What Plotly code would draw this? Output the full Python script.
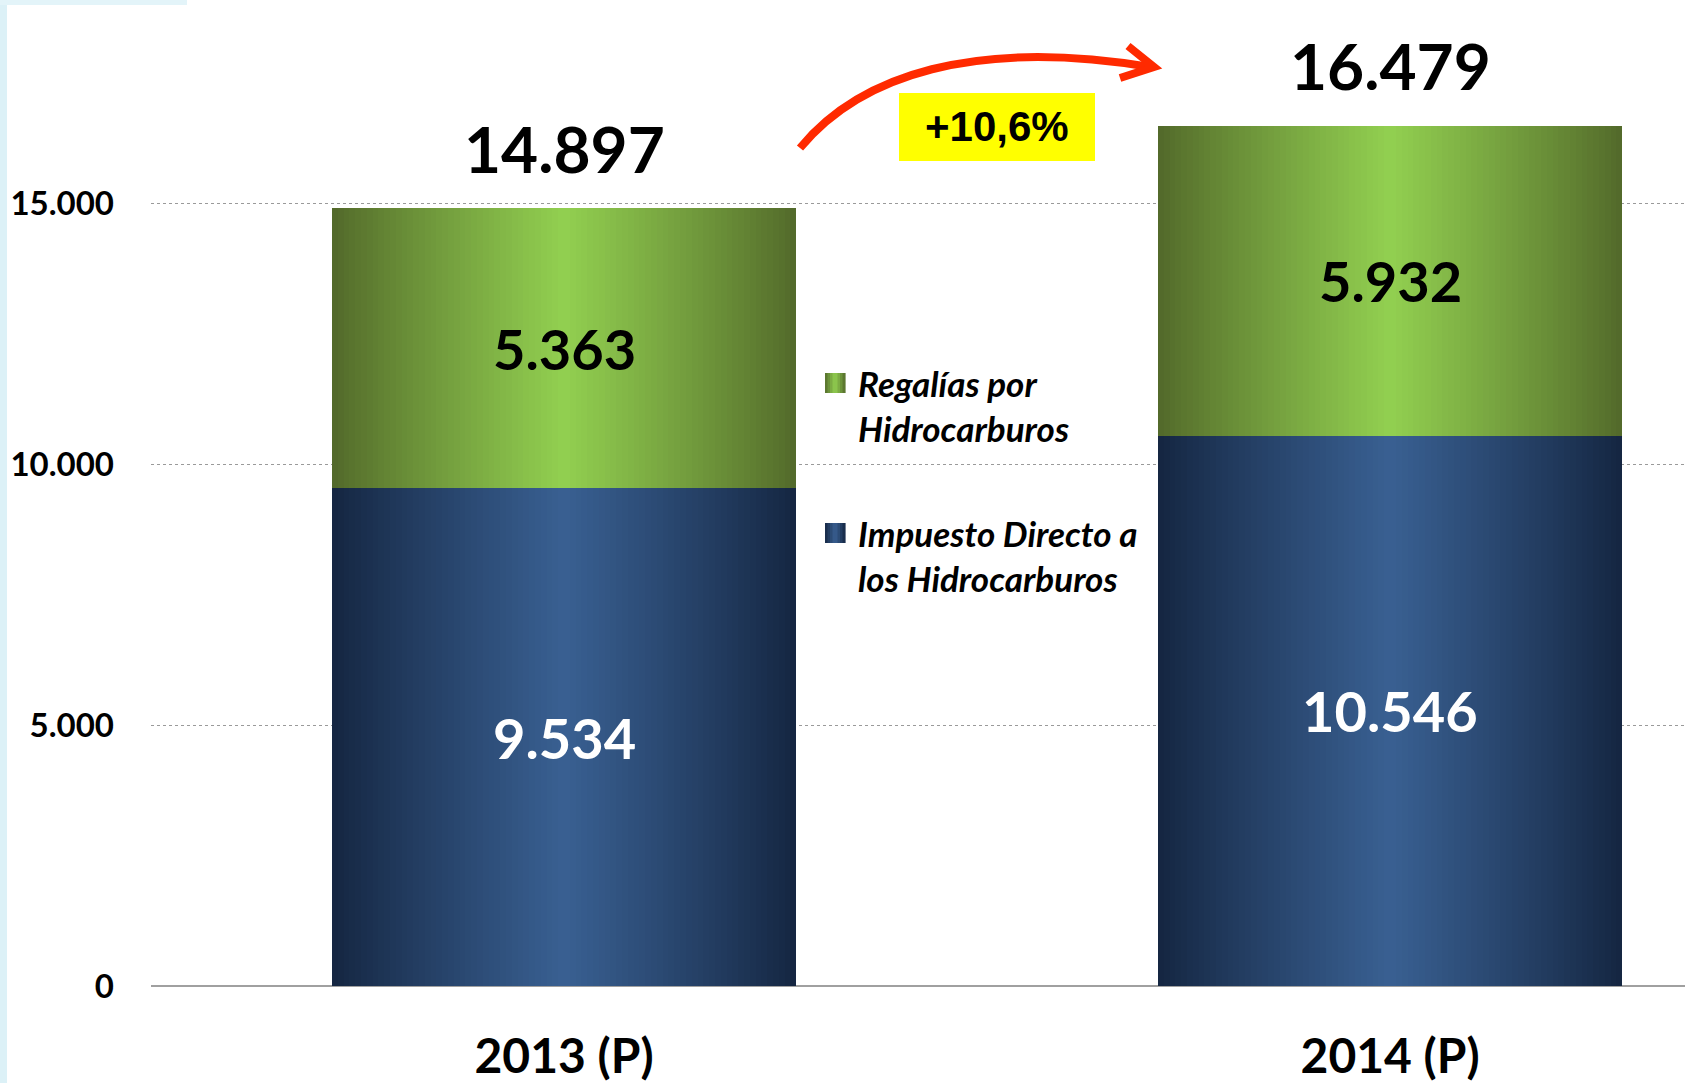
import plotly.graph_objects as go

# ---------------- data ----------------
categories = ["2013 (P)", "2014 (P)"]
impuesto = [9534, 10546]          # Impuesto Directo a los Hidrocarburos
regalias = [5363, 5932]           # Regalías por Hidrocarburos
totals = [14897, 16479]
growth_label = "+10,6%"
y_ticks = [0, 5000, 10000, 15000]

# ---------------- geometry helpers (pixel -> paper) ----------------
W, H = 1685, 1083
PL, PT, PW, PH = 151, 0, 1534, 986


def px(x):
    return (x - PL) / PW


def py(y):
    return (PT + PH - y) / PH


def fmt(v):
    return f"{v:,}".replace(",", ".")


def mix(c1, c2, t):
    return "rgb(%d,%d,%d)" % tuple(round(a + (b - a) * t) for a, b in zip(c1, c2))


BLUE_EDGE, BLUE_MID = (20, 37, 64), (57, 96, 146)
GREEN_EDGE, GREEN_MID = (82, 104, 42), (146, 208, 80)


def profile(u):
    # u in [0,1] across the bar; 0 at edges, 1 at center
    d = abs(u - 0.5) * 2
    return max(0.0, 1 - d) ** 0.9


fig = go.Figure()

BAR_W = 0.562
N = 80
sw = BAR_W / N
for i in range(N):
    u = (i + 0.5) / N
    t = profile(u)
    off = -BAR_W / 2 + i * sw
    wd = sw * 1.6 if i < N - 1 else sw
    fig.add_trace(go.Bar(
        x=categories, y=impuesto, base=[0, 0],
        offset=off, width=wd,
        marker=dict(color=mix(BLUE_EDGE, BLUE_MID, t), line=dict(width=0)),
        showlegend=False, hoverinfo="skip",
    ))
    fig.add_trace(go.Bar(
        x=categories, y=regalias, base=impuesto,
        offset=off, width=wd,
        marker=dict(color=mix(GREEN_EDGE, GREEN_MID, t), line=dict(width=0)),
        showlegend=False, hoverinfo="skip",
    ))

annotations = []
FONT = "Lato"
for c, imp, reg, tot in zip(categories, impuesto, regalias, totals):
    annotations.append(dict(x=c, y=imp / 2, text=fmt(imp), showarrow=False,
                            font=dict(family=FONT, size=56, color="white", weight="bold"),
                            xref="x", yref="y", yanchor="middle"))
    annotations.append(dict(x=c, y=imp + reg / 2, text=fmt(reg), showarrow=False,
                            font=dict(family=FONT, size=56, color="black", weight="bold"),
                            xref="x", yref="y", yanchor="middle"))
    annotations.append(dict(x=c, y=tot, text=fmt(tot), showarrow=False, yshift=60,
                            font=dict(family=FONT, size=64, color="black", weight="bold"),
                            xref="x", yref="y", yanchor="middle"))

# growth label
annotations.append(dict(x=px(997), y=py(127), xref="paper", yref="paper", text="<b>" + growth_label + "</b>",
                        showarrow=False, font=dict(family="Liberation Sans", size=42, color="black"),
                        xanchor="center", yanchor="middle"))

# legend text
leg_font = dict(family=FONT, size=35, color="black", weight="bold", style="italic")
for txt, yy in [("Regalías por", 383), ("Hidrocarburos", 428),
                ("Impuesto Directo a", 533), ("los Hidrocarburos", 578)]:
    annotations.append(dict(x=px(856), y=py(yy), xref="paper", yref="paper", text=txt,
                            showarrow=False, font=leg_font, xanchor="left", yanchor="middle"))

shapes = []
# left decoration
shapes.append(dict(type="rect", xref="paper", yref="paper", x0=px(0), x1=px(7), y0=py(H), y1=py(0),
                   fillcolor="#dcf1f7", line=dict(width=0), layer="above"))
shapes.append(dict(type="rect", xref="paper", yref="paper", x0=px(0), x1=px(187), y0=py(5), y1=py(0),
                   fillcolor="#e3f4f9", line=dict(width=0), layer="above"))

# legend squares with small gradient
for (edge, mid), yc in [((GREEN_EDGE, GREEN_MID), 383), ((BLUE_EDGE, BLUE_MID), 533)]:
    n = 8
    for k in range(n):
        t = profile((k + 0.5) / n)
        shapes.append(dict(type="rect", xref="paper", yref="paper",
                           x0=px(825 + k * 20 / n), x1=px(825 + (k + 1) * 20 / n + 0.6),
                           y0=py(yc + 10), y1=py(yc - 10),
                           fillcolor=mix(edge, mid, t), line=dict(width=0), layer="above"))

# yellow box
shapes.append(dict(type="rect", xref="paper", yref="paper", x0=px(899), x1=px(1095), y0=py(161), y1=py(93),
                   fillcolor="#ffff00", line=dict(width=0), layer="above"))


# red curved arrow
def P(x, y):
    return f"{px(x):.5f},{py(y):.5f}"


curve = f"M {P(800,148)} C {P(860,75)} {P(975,38)} {P(1150,67)}"
shapes.append(dict(type="path", xref="paper", yref="paper", path=curve,
                   line=dict(color="#ff2a00", width=8), layer="above"))
head = f"M {P(1128,46)} L {P(1154,67)} L {P(1120,78)}"
shapes.append(dict(type="path", xref="paper", yref="paper", path=head,
                   line=dict(color="#ff2a00", width=8), layer="above"))

fig.update_layout(
    width=W, height=H,
    margin=dict(l=PL, r=W - PL - PW, t=PT, b=H - PT - PH, pad=0),
    paper_bgcolor="white", plot_bgcolor="white",
    barmode="overlay", bargap=0,
    separators=",.",
    showlegend=False,
    annotations=annotations,
    shapes=shapes,
    xaxis=dict(type="category", range=[-0.5, 1.357], showgrid=False, zeroline=False,
               showline=False, ticks="", ticklabelstandoff=38,
               tickfont=dict(family=FONT, size=48, color="black", weight="bold")),
    yaxis=dict(range=[0, 18890], tickvals=y_ticks, tickformat=",d",
               showgrid=True, gridcolor="#9a9a9a", griddash="dot", gridwidth=1,
               zeroline=True, zerolinecolor="#a0a0a0", zerolinewidth=2,
               showline=False, ticks="", ticklabelstandoff=36,
               tickfont=dict(family=FONT, size=33, color="black", weight="bold")),
)

fig.write_html("out.html", config={"displayModeBar": False},
               post_script="document.body.style.margin='0px';document.body.style.overflow='hidden';")
